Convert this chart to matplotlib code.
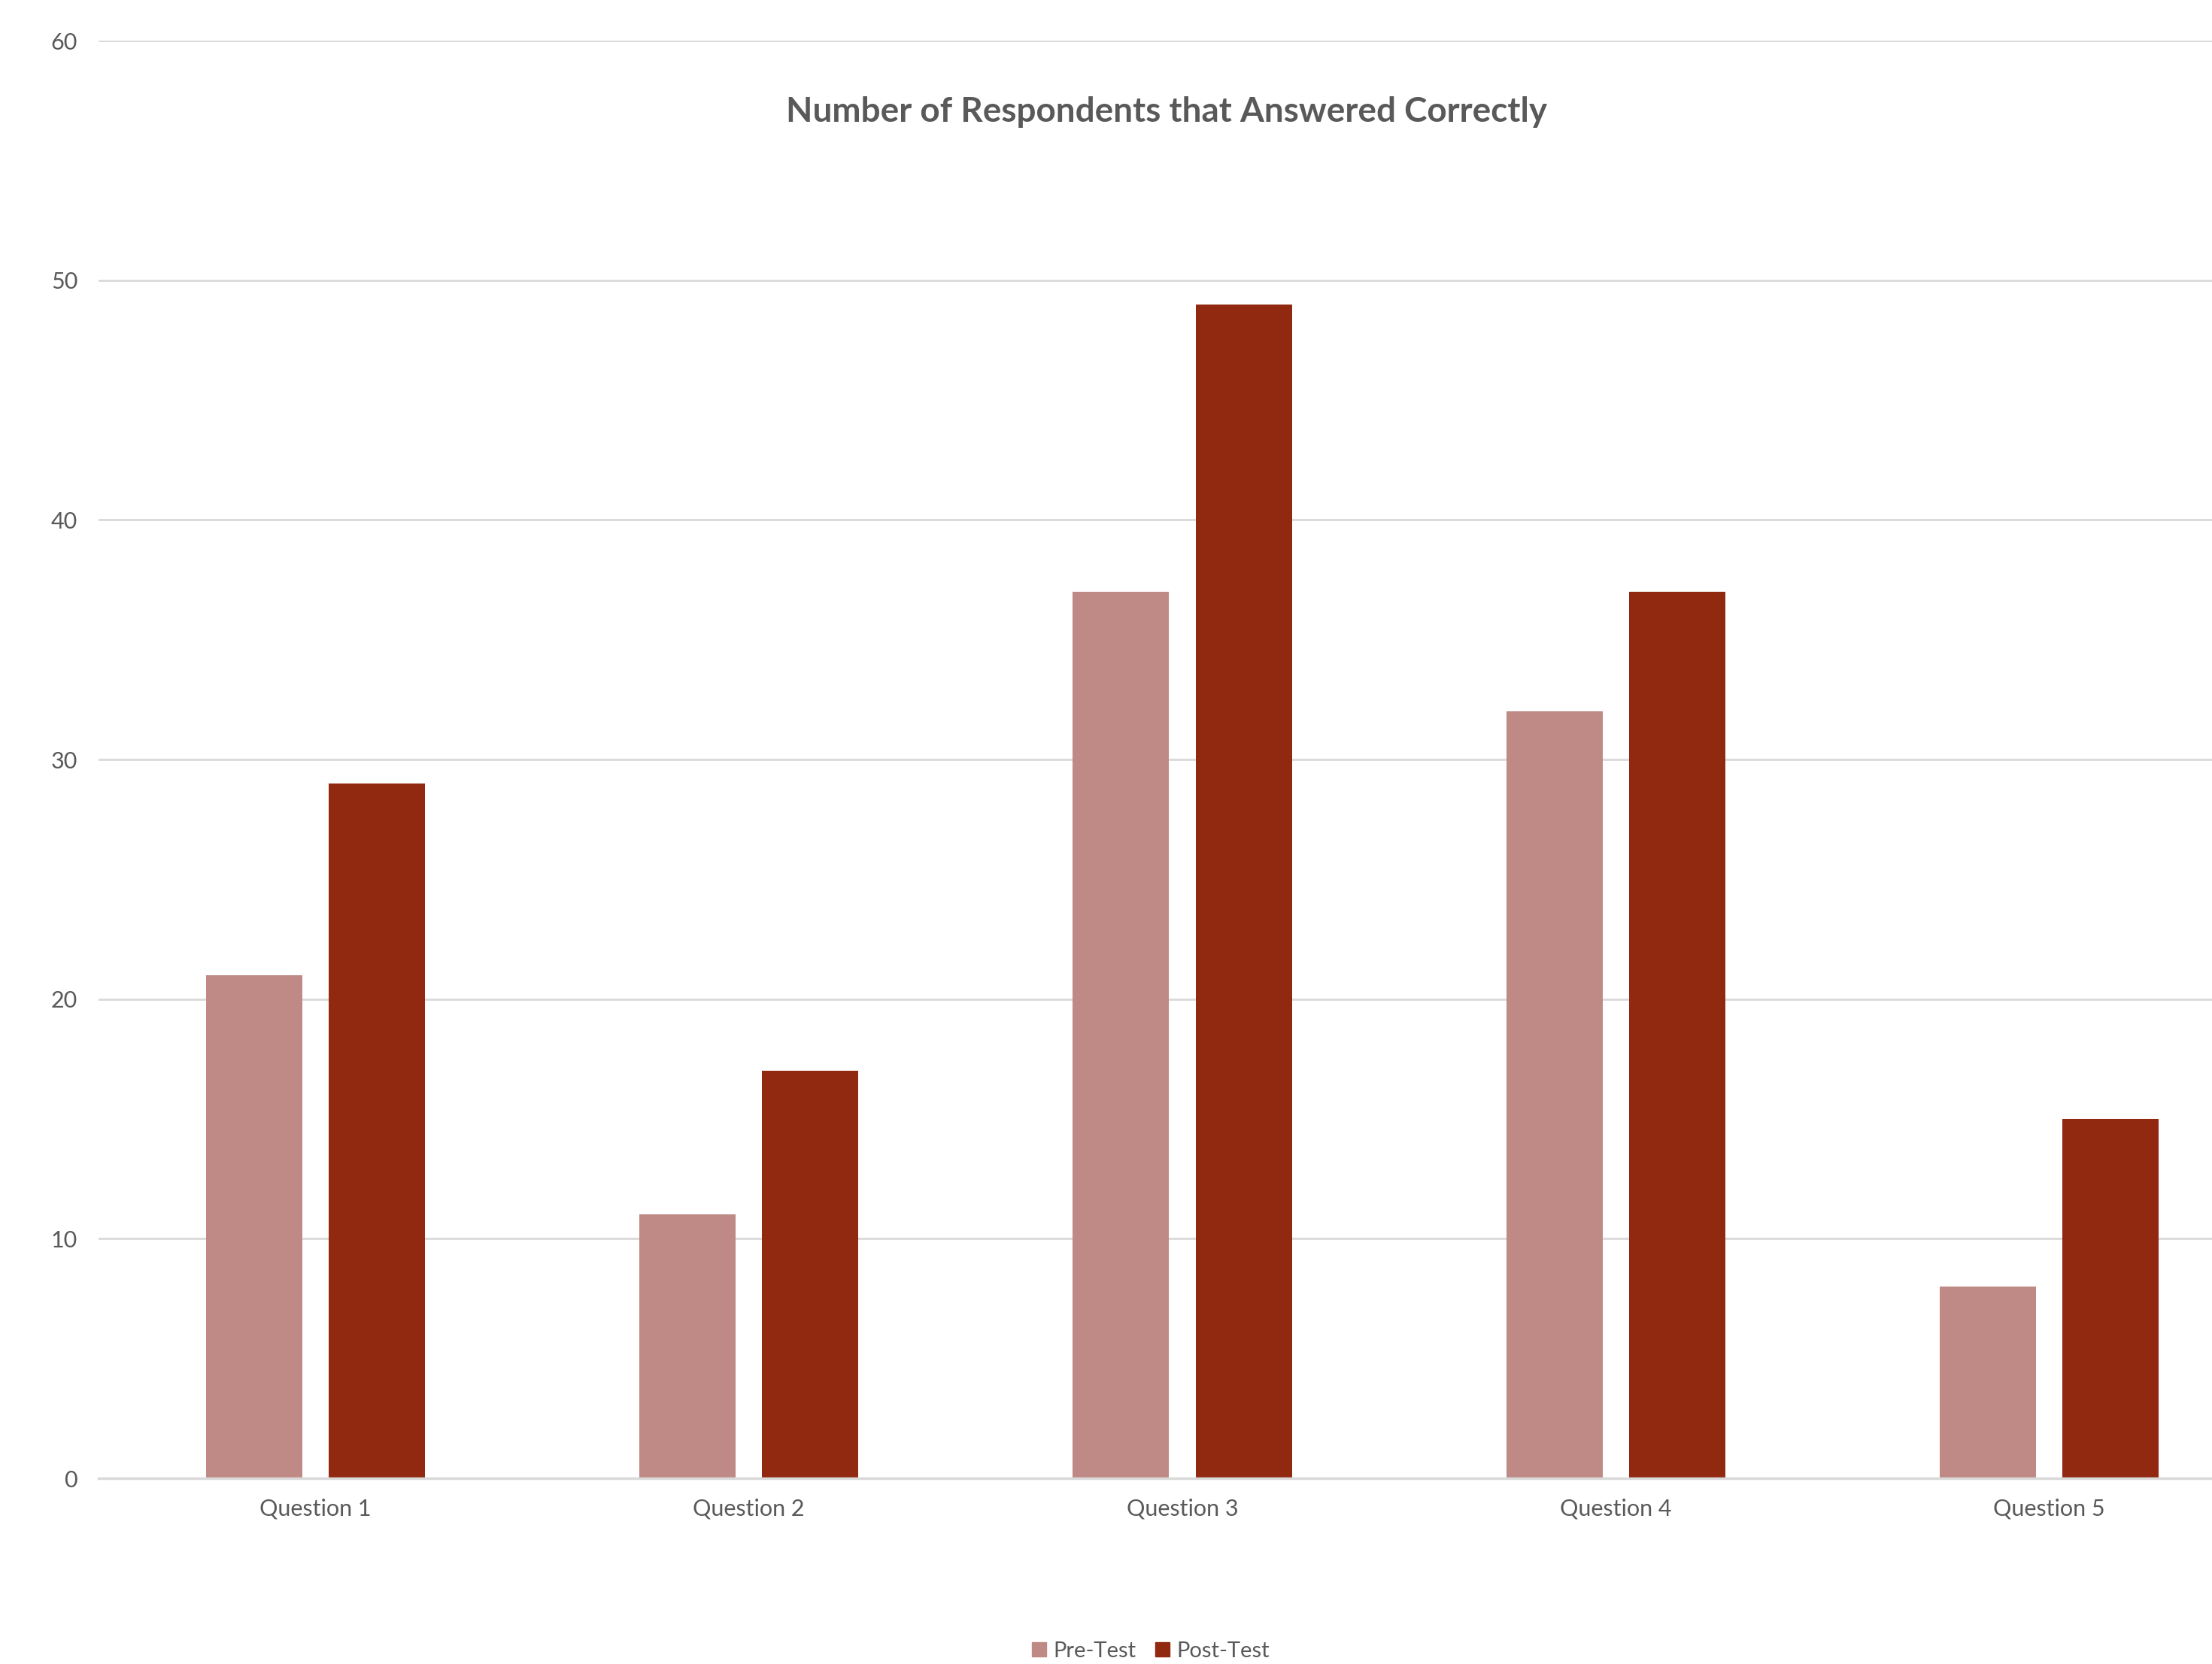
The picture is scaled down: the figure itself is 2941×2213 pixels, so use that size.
import numpy as np
import matplotlib
matplotlib.use("Agg")
import matplotlib.pyplot as plt
from matplotlib.patches import Patch

questions = ["Question 1", "Question 2", "Question 3", "Question 4", "Question 5"]
pre_test = [21, 11, 37, 32, 8]
post_test = [29, 17, 49, 37, 15]
series_names = ["Pre-Test", "Post-Test"]

pre_color = "#BF8A85"
post_color = "#912810"
text_color = "#595959"
grid_color = "#D9D9D9"

plt.rcParams["font.family"] = ["Lato", "DejaVu Sans"]

fig = plt.figure(figsize=(29.41, 22.13), dpi=100)
# plot area runs off the right edge of the canvas
ax = fig.add_axes([131 / 2941, 1 - 1966 / 2213, (3013 - 131) / 2941, (1966 - 54) / 2213])

x = np.arange(len(questions))
bar_w = 0.222
offset = 0.1415
ax.bar(x - offset, pre_test, bar_w, color=pre_color, label=series_names[0], zorder=3)
ax.bar(x + offset, post_test, bar_w, color=post_color, label=series_names[1], zorder=3)

ax.set_xlim(-0.5, len(questions) - 0.5)
ax.set_ylim(0, 60)
ax.set_yticks(range(0, 61, 10))
ax.set_xticks(x)
ax.set_xticklabels(questions)

ax.grid(axis="y", color=grid_color, linewidth=2, zorder=0)
ax.set_axisbelow(True)
for side in ["top", "right", "left"]:
    ax.spines[side].set_visible(False)
ax.spines["bottom"].set_color(grid_color)
ax.spines["bottom"].set_linewidth(2.5)
ax.spines["bottom"].set_zorder(4)
ax.tick_params(axis="both", length=0, labelsize=22, colors=text_color)
ax.tick_params(axis="y", pad=20)
ax.tick_params(axis="x", pad=19)

fig.text(1551 / 2941, 1 - 149 / 2213, "Number of Respondents that Answered Correctly",
         ha="center", va="center", fontsize=33, fontweight="bold", color=text_color)

handles = [Patch(color=pre_color), Patch(color=post_color)]
fig.legend(handles, series_names, loc="center", bbox_to_anchor=(1530 / 2941, 1 - 2196 / 2213),
           ncol=2, frameon=False, fontsize=21, labelcolor=text_color,
           handlelength=0.65, handleheight=0.65, handletextpad=0.3, columnspacing=0.9)

fig.savefig("out.png", dpi=100)
